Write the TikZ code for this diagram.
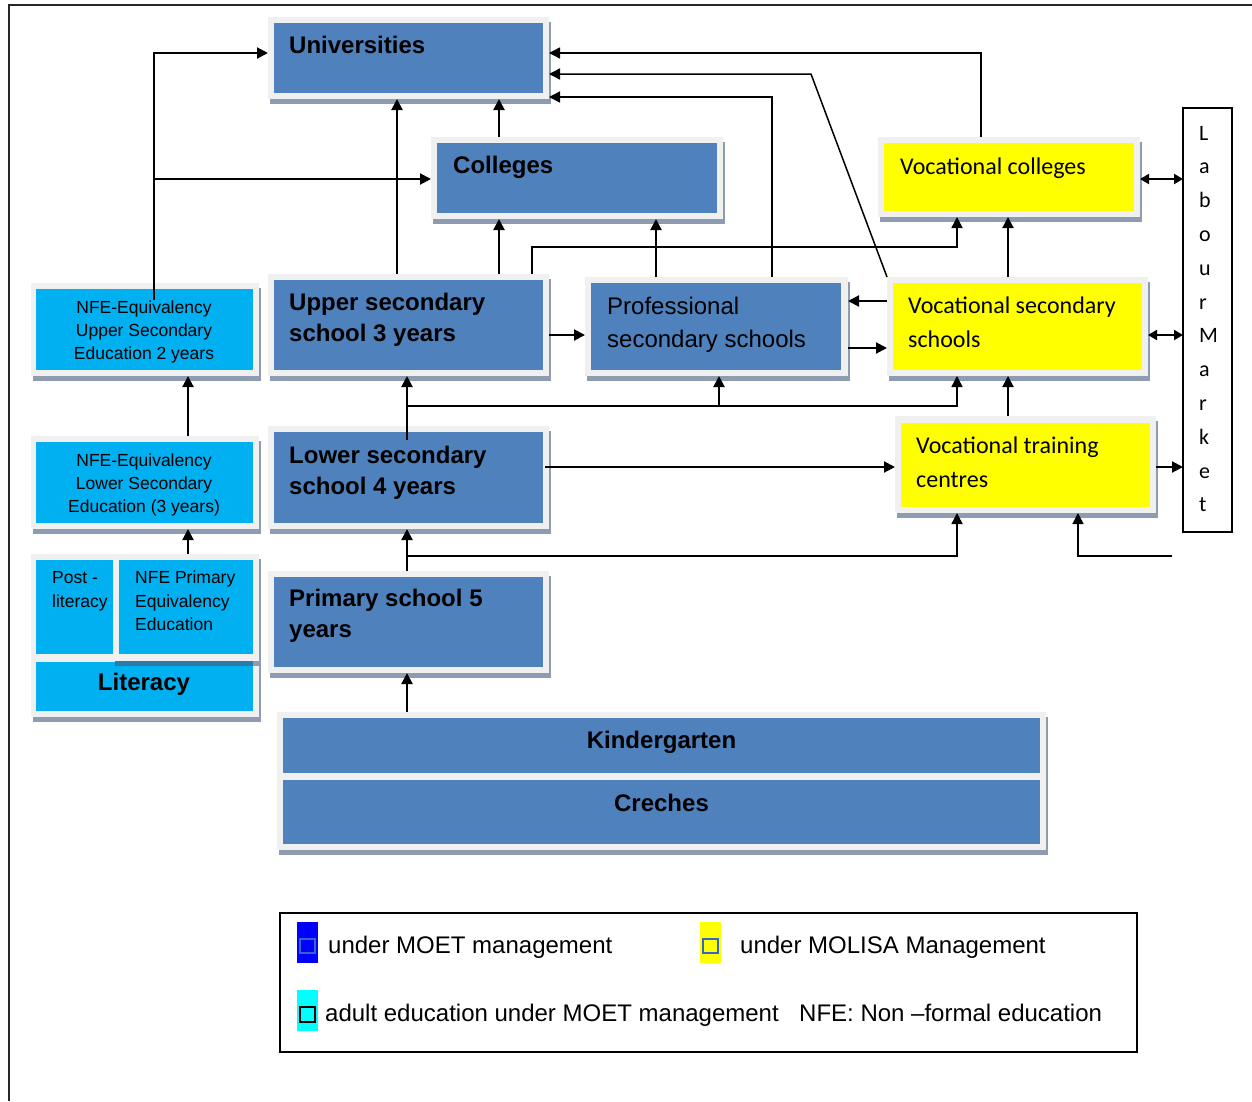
\documentclass[tikz,border=0pt]{standalone}
\usepackage{fontspec}
\setmainfont{Liberation Sans}
\newfontfamily\calfont{Carlito}
\usetikzlibrary{arrows.meta,fit}
\definecolor{eduBlue}{HTML}{4F81BD}
\definecolor{nfeCyan}{HTML}{00B0F0}
\definecolor{molYellow}{HTML}{FFFF00}
\definecolor{frameGray}{HTML}{F0F0F0}
\definecolor{shadowGray}{HTML}{8E9CB2}
\definecolor{bandBlue}{HTML}{2A7AAA}
\definecolor{legBlue}{HTML}{0000FF}
\definecolor{legCyan}{HTML}{00FFFF}
\definecolor{legEdge}{HTML}{3565C8}
\newcommand\eduframe[5]{%
  \fill[shadowGray] ({#2+2},{#3+5}) rectangle ({#4+2},{#5+5});
  \node[framebox, fit={(#2,#3) (#4,#5)}] (#1) {};
}
\begin{document}
\begin{tikzpicture}[x=1pt,y=-1pt,
  framebox/.style={rectangle, fill=frameGray, draw=none, inner sep=0pt, outer sep=0pt},
  btxt/.style={anchor=base west, inner sep=0pt, font=\fontsize{24}{28}\selectfont\bfseries},
  bctxt/.style={anchor=base, inner sep=0pt, font=\fontsize{24}{28}\selectfont\bfseries},
  rtxt/.style={anchor=base west, inner sep=0pt, font=\fontsize{24}{28}\selectfont},
  ctxt/.style={anchor=base west, inner sep=0pt, font=\calfont\fontsize{24}{28}\selectfont},
  stxt/.style={anchor=base, inner sep=0pt, font=\fontsize{17.5}{20}\selectfont},
  sltxt/.style={anchor=base west, inner sep=0pt, font=\fontsize{17.5}{20}\selectfont},
  lmtxt/.style={anchor=base west, inner sep=0pt, font=\calfont\fontsize{22}{26}\selectfont},
  arr/.style={line width=2pt, -{Triangle[length=11pt,width=11pt]}},
  tarr/.style={line width=1.5pt, -{Triangle[length=11pt,width=11pt]}},
  dbl/.style={line width=2pt, {Triangle[length=9pt,width=10pt]}-{Triangle[length=9pt,width=10pt]}},
  plain/.style={fill=white, draw=black, line width=1.5pt, inner sep=0pt, outer sep=0pt}
]
\useasboundingbox (0,0) rectangle (1252,1101);
\draw[line width=2pt, black!85] (9,1101) -- (9,5) -- (1252,5);

% ---------- boxes ----------
\eduframe{uni}{268}{17}{549}{99}
\fill[eduBlue] (274,23) rectangle (543,93);
\eduframe{col}{431}{137}{723}{219}
\fill[eduBlue] (437,143) rectangle (717,213);
\eduframe{vc}{878}{137}{1140}{217}
\fill[molYellow] (884,143) rectangle (1134,211);
\eduframe{ups}{268}{274}{549}{376}
\fill[eduBlue] (274,280) rectangle (543,370);
\eduframe{prof}{585}{277}{848}{376}
\fill[eduBlue] (591,283) rectangle (841,370);
\eduframe{vss}{887}{277}{1148}{376}
\fill[molYellow] (893,283) rectangle (1142,370);
\eduframe{nfeu}{31}{283}{259}{376}
\fill[nfeCyan] (36,289) rectangle (253,370);
\eduframe{nfel}{31}{436}{259}{529}
\fill[nfeCyan] (36,442) rectangle (253,523);
\eduframe{lows}{268}{426}{549}{529}
\fill[eduBlue] (274,432) rectangle (543,523);
\eduframe{vtc}{895}{416}{1156}{513}
\fill[molYellow] (901,423) rectangle (1150,507);
\eduframe{prim}{268}{571}{549}{673}
\fill[eduBlue] (274,577) rectangle (543,667);
\eduframe{lit}{31}{554}{259}{717}
\fill[nfeCyan] (36,560) rectangle (113,654);
\fill[nfeCyan] (119,560) rectangle (253,654);
\fill[nfeCyan] (36,662) rectangle (253,711);
\fill[bandBlue] (115,661) rectangle (253,666);
\fill[shadowGray] (253,661) rectangle (261,666);
\eduframe{kg}{277}{712}{1046}{850}
\fill[eduBlue] (283,718) rectangle (1040,773);
\fill[eduBlue] (283,780) rectangle (1040,844);
\node[plain, fill=none, line width=1.4pt, fit={(1183,108) (1232,532)}] (lm) {};

% ---------- texts ----------
\node[btxt] (tUni) at (289,53) {Universities};
\node[btxt] (tCol) at (453,173) {Colleges};
\node[ctxt] (tVC) at (900,174) {Vocational colleges};
\node[btxt] (tUps1) at (289,310) {Upper secondary};
\node[btxt] (tUps2) at (289,341) {school 3 years};
\node[rtxt] (tProf1) at (607,314) {Professional};
\node[rtxt] (tProf2) at (607,347) {secondary schools};
\node[ctxt] (tVss1) at (908,313) {Vocational secondary};
\node[ctxt] (tVss2) at (908,347) {schools};
\node[btxt] (tLow1) at (289,463) {Lower secondary};
\node[btxt] (tLow2) at (289,494) {school 4 years};
\node[ctxt] (tVtc1) at (916,453) {Vocational training};
\node[ctxt] (tVtc2) at (916,487) {centres};
\node[btxt] (tPrim1) at (289,606) {Primary school 5};
\node[btxt] (tPrim2) at (289,637) {years};
\node[stxt] (tNu1) at (144,313) {NFE-Equivalency};
\node[stxt] (tNu2) at (144,336) {Upper Secondary};
\node[stxt] (tNu3) at (144,359) {Education 2 years};
\node[stxt] (tNl1) at (144,466) {NFE-Equivalency};
\node[stxt] (tNl2) at (144,489) {Lower Secondary};
\node[stxt] (tNl3) at (144,512) {Education (3 years)};
\node[sltxt] (tPo1) at (52,583) {Post -};
\node[sltxt] (tPo2) at (52,607) {literacy};
\node[sltxt] (tNp1) at (135,583) {NFE Primary};
\node[sltxt] (tNp2) at (135,607) {Equivalency};
\node[sltxt] (tNp3) at (135,630) {Education};
\node[bctxt] (tLit) at (144,690) {Literacy};
\node[bctxt] (tKg) at (661.5,748) {Kindergarten};
\node[bctxt] (tCr) at (661.5,811) {Creches};
\foreach \ch [count=\i] in {L,a,b,o,u,r,M,a,r,k,e,t}
  \node[lmtxt] (lmt\i) at (1199,{140+33.8*(\i-1)}) {\ch};

% ---------- coordinates ----------
\foreach \v in {154,188,397,407,499,532,656,719,772,957,981,1008,1078}
  \coordinate (x\v) at (\v,0);
\foreach \v in {53,74,97,179,247,301,335,348,406,467,556}
  \coordinate (y\v) at (0,\v);
\coordinate (nfeuIn) at (154,300);
\coordinate (lowIn) at (407,440);
\coordinate (lowOut) at (545,467);
\coordinate (diagTop) at (811,74);
\coordinate (lmFree) at (1172,556);

% ---------- connectors ----------
\draw[arr] (nfeuIn) |- (uni.west |- y53);
\draw[arr] (nfeuIn |- y179) -- (col.west |- y179);
\draw[arr] (ups.north -| x397) -- (uni.south -| x397);
\draw[arr] (col.north -| x499) -- (uni.south -| x499);
\draw[arr] (ups.north -| x499) -- (col.south -| x499);
\draw[tarr] (ups.north -| x532) |- (x957 |- y247) -- (vc.south -| x957);
\draw[arr] (prof.north -| x656) -- (col.south -| x656);
\draw[arr] (vss.north -| x1008) -- (vc.south -| x1008);
\draw[tarr] (prof.north -| x772) |- (uni.east |- y97);
\draw[tarr] (vss.north west) -- (diagTop) -- (uni.east |- y74);
\draw[tarr] (vc.north -| x981) |- (uni.east |- y53);
\draw[dbl] (vc.east |- y179) -- (lm.west |- y179);
\draw[arr] (ups.east |- y335) -- (prof.west |- y335);
\draw[arr] (vss.west |- y301) -- (prof.east |- y301);
\draw[arr] (prof.east |- y348) -- (vss.west |- y348);
\draw[dbl] (vss.east |- y335) -- (lm.west |- y335);
\draw[arr] (vtc.east |- y467) -- (lm.west |- y467);
\draw[arr] (lowIn) -- (ups.south -| x407);
\draw[tarr] (x407 |- y406) -| (vss.south -| x957);
\draw[arr] (x719 |- y406) -- (prof.south -| x719);
\draw[arr] (vtc.north -| x1008) -- (vss.south -| x1008);
\draw[arr] (lowOut) -- (vtc.west |- y467);
\draw[arr] (prim.north -| x407) -- (lows.south -| x407);
\draw[tarr] (x407 |- y556) -| (vtc.south -| x957);
\draw[tarr] (lmFree) -| (vtc.south -| x1078);
\draw[arr] (kg.north -| x407) -- (prim.south -| x407);
\draw[arr] (nfel.north -| x188) -- (nfeu.south -| x188);
\draw[arr] (lit.north -| x188) -- (nfel.south -| x188);

% ---------- legend ----------
\node[plain, fill=none, fit={(280,913) (1137,1052)}] (leg) {};
\node[fill=legBlue, inner sep=0pt, minimum width=21pt, minimum height=41pt] (lgBlue) at (307.5,942.5) {};
\node[draw=legEdge, line width=1.2pt, inner sep=0pt, minimum width=15pt, minimum height=14pt] (lgBlueSq) at (307.5,946) {};
\node[fill=molYellow, inner sep=0pt, minimum width=21pt, minimum height=41pt] (lgYel) at (710.5,942.5) {};
\node[draw=legEdge, line width=1.2pt, inner sep=0pt, minimum width=15pt, minimum height=14pt] (lgYelSq) at (710.5,946) {};
\node[fill=legCyan, inner sep=0pt, minimum width=21pt, minimum height=41pt] (lgCy) at (307.5,1010.5) {};
\node[draw=black, line width=1.2pt, inner sep=0pt, minimum width=15pt, minimum height=15pt] (lgCySq) at (307.5,1014.5) {};
\node[rtxt] (tL1) at (328,953) {under MOET management};
\node[rtxt] (tL2) at (740,953) {under MOLISA Management};
\node[rtxt] (tL3) at (325,1021) {adult education under MOET management};
\node[rtxt] (tL4) at (799,1021) {NFE: Non –formal education};
\end{tikzpicture}
\end{document}
